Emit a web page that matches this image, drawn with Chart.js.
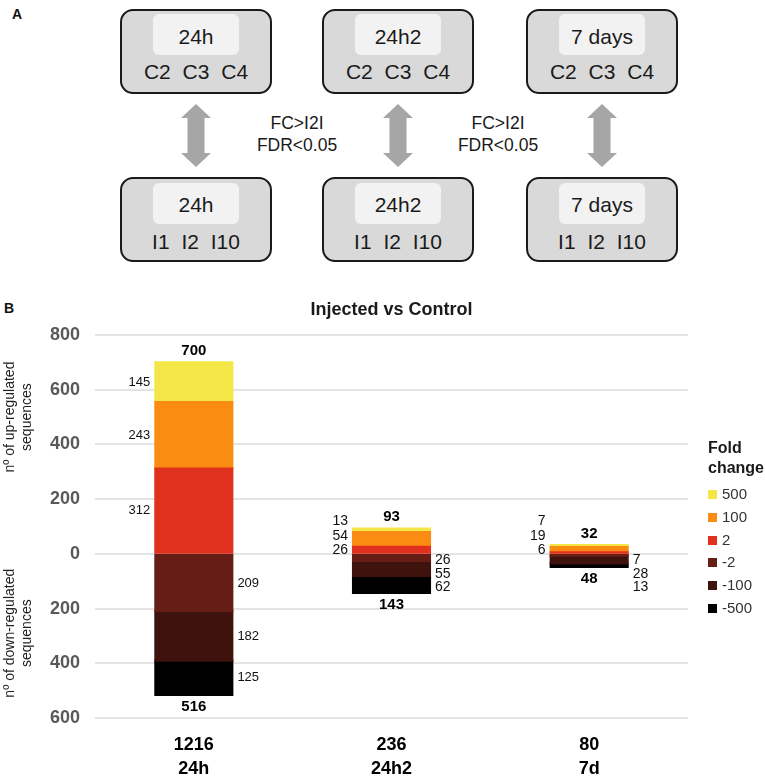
<!DOCTYPE html>
<html><head><meta charset="utf-8">
<script src="https://cdn.jsdelivr.net/npm/chart.js@4.4.1/dist/chart.umd.min.js"></script>
<style>
html,body{margin:0;padding:0;background:#fff;}
body{width:765px;height:779px;position:relative;overflow:hidden;font-family:"Liberation Sans",Arial,sans-serif;}
.panel{position:absolute;font-weight:bold;font-size:14px;color:#111;line-height:16px;}
.box{position:absolute;box-sizing:border-box;width:152px;height:85px;border:2px solid #1a1a1a;border-radius:13px;background:#d9d9d9;}
.inner{position:absolute;left:31px;width:86px;height:41px;border-radius:6px;background:#f2f2f2;}
.lbl{position:absolute;left:0;width:100%;text-align:center;font-size:21px;color:#1a1a1a;line-height:24px;white-space:nowrap;}
.lbl.ws{word-spacing:6px;}
.crit{position:absolute;width:140px;text-align:center;font-size:17.5px;line-height:22px;color:#1a1a1a;}
#chartWrap{position:absolute;left:0;top:280px;width:765px;height:499px;}
#legend{position:absolute;left:708px;top:438px;color:#333;}
#legend .t{font-weight:bold;font-size:16px;line-height:20px;color:#1a1a1a;}
#legend .it{position:absolute;left:0;font-size:15px;line-height:18px;white-space:nowrap;}
#legend .sq{display:inline-block;width:9px;height:9px;margin-right:5px;vertical-align:0px;}
</style>
</head><body>
<div class="panel" style="left:12px;top:6px;">A</div>
<div class="panel" style="left:4px;top:300px;">B</div>

<svg width="765" height="270" style="position:absolute;left:0;top:0;" id="arrows"></svg>

<div id="boxes"></div>

<div class="crit" style="left:227px;top:112px;">FC&gt;I2I<br>FDR&lt;0.05</div>
<div class="crit" style="left:428px;top:112px;">FC&gt;I2I<br>FDR&lt;0.05</div>

<div id="chartWrap"><canvas id="c"></canvas></div>
<div id="legend"></div>

<script>
// ---- data ----
const categories = ['24h', '24h2', '7d'];
const fc2 = [312, 26, 6];
const fc100 = [243, 54, 19];
const fc500 = [145, 13, 7];
const fcNeg2 = [-209, -26, -7];
const fcNeg100 = [-182, -55, -28];
const fcNeg500 = [-125, -62, -13];
const seriesLabels = ['2', '100', '500', '-2', '-100', '-500'];
const seriesColors = ['#E0301E', '#FA8C14', '#F3E646', '#651D15', '#3E120D', '#000000'];
const legendOrder = [2, 1, 0, 3, 4, 5];
const yMin = -600, yMax = 800, yStep = 200;
const panelTimes = ['24h', '24h2', '7 days'];
const controlLabel = 'C2 C3 C4';
const injectedLabel = 'I1 I2 I10';

// ---- panel A ----
const boxLefts = [120, 322, 526];
const boxesEl = document.getElementById('boxes');
panelTimes.forEach((t, i) => {
  [[9, controlLabel, 3, 14, 49], [177, injectedLabel, 4, 14, 51]].forEach(r => {
    const b = document.createElement('div');
    b.className = 'box';
    b.style.left = boxLefts[i] + 'px';
    b.style.top = r[0] + 'px';
    b.innerHTML = '<div class="inner" style="top:' + r[2] + 'px"></div>' +
      '<div class="lbl" style="top:' + r[3] + 'px">' + t + '</div>' +
      '<div class="lbl ws" style="top:' + r[4] + 'px">' + r[1] + '</div>';
    boxesEl.appendChild(b);
  });
});
const svg = document.getElementById('arrows');
boxLefts.forEach(l => {
  const cx = l + 76, t = 104, b = 167, hw = 15, sw = 8.5, hh = 14;
  const pts = [[cx, t], [cx + hw, t + hh], [cx + sw, t + hh], [cx + sw, b - hh], [cx + hw, b - hh], [cx, b],
    [cx - hw, b - hh], [cx - sw, b - hh], [cx - sw, t + hh], [cx - hw, t + hh]];
  const p = document.createElementNS('http://www.w3.org/2000/svg', 'polygon');
  p.setAttribute('points', pts.map(q => q.join(',')).join(' '));
  p.setAttribute('fill', '#a6a6a6');
  svg.appendChild(p);
});

// ---- panel B ----
const series = [fc2, fc100, fc500, fcNeg2, fcNeg100, fcNeg500];
const upTotal = categories.map((c, i) => series.reduce((s, a) => s + (a[i] > 0 ? a[i] : 0), 0));
const downTotal = categories.map((c, i) => series.reduce((s, a) => s + (a[i] < 0 ? -a[i] : 0), 0));
const xLabels = categories.map((c, i) => [String(upTotal[i] + downTotal[i]), c]);

const FONT = '"Liberation Sans", Arial, sans-serif';

const segLabels = {
  id: 'segLabels',
  afterDatasetsDraw(chart) {
    const ctx = chart.ctx;
    const ys = chart.scales.y;
    const y0 = ys.getPixelForValue(0);
    ctx.save();
    ctx.textBaseline = 'middle';
    categories.forEach((c, i) => {
      const props = chart.data.datasets.map((ds, d) => chart.getDatasetMeta(d).data[i].getProps(['x', 'y', 'base', 'width'], true));
      const minH = Math.min(...props.map(p => Math.abs(p.base - p.y)));
      const compact = minH < 18;
      let up = 0, down = 0, top = y0, bottom = y0;
      ctx.fillStyle = '#111';
      ctx.font = (compact ? '14px ' : '13px ') + FONT;
      chart.data.datasets.forEach((ds, d) => {
        const v = ds.data[i];
        const p = props[d];
        if (v >= 0) {
          const ty = compact ? y0 - 3.5 - up * 14.5 : (p.y + p.base) / 2;
          up++;
          ctx.textAlign = 'right';
          ctx.fillText(String(Math.abs(v)), p.x - p.width / 2 - 5, ty);
          top = Math.min(top, p.y);
        } else {
          const ty = compact ? y0 + 6.5 + down * 13.3 : (p.y + p.base) / 2;
          down++;
          ctx.textAlign = 'left';
          ctx.fillText(String(Math.abs(v)), p.x + p.width / 2 + 5, ty);
          bottom = Math.max(bottom, p.y);
        }
      });
      ctx.font = 'bold 15px ' + FONT;
      ctx.textAlign = 'center';
      ctx.fillStyle = '#000';
      ctx.fillText(String(upTotal[i]), props[0].x, top - 11.5);
      ctx.fillText(String(downTotal[i]), props[0].x, bottom + 12);
    });
    // y axis titles
    ctx.fillStyle = '#222';
    ctx.font = '14px ' + FONT;
    ctx.textAlign = 'center';
    [[500, 'nº of up-regulated', 'sequences'], [-290, 'nº of down-regulated', 'sequences']].forEach(a => {
      ctx.save();
      ctx.translate(18.5, ys.getPixelForValue(a[0]));
      ctx.rotate(-Math.PI / 2);
      ctx.fillText(a[1], 0, -8.5);
      ctx.fillText(a[2], 0, 8.5);
      ctx.restore();
    });
    ctx.restore();
  }
};

const datasets = series.map((data, d) => ({
  label: seriesLabels[d],
  data: data,
  backgroundColor: seriesColors[d],
  borderWidth: 0,
  inflateAmount: 1,
  stack: 's',
  categoryPercentage: 1,
  barPercentage: 0.39
}));

new Chart(document.getElementById('c'), {
  type: 'bar',
  data: { labels: xLabels, datasets: datasets },
  options: {
    responsive: true,
    maintainAspectRatio: false,
    animation: false,
    layout: { padding: { left: 0, right: 77, top: 0, bottom: 0 } },
    plugins: {
      legend: { display: false },
      tooltip: { enabled: false },
      title: {
        display: true,
        text: 'Injected vs Control',
        fullSize: false,
        color: '#1a1a1a',
        font: { family: FONT, size: 18, weight: 'bold', lineHeight: 1.2 },
        padding: { top: 19, bottom: 14.4 }
      }
    },
    scales: {
      x: {
        stacked: true,
        grid: { display: false, drawTicks: false },
        border: { display: false },
        ticks: { color: '#000', padding: 16, font: { family: FONT, size: 18, weight: 'bold', lineHeight: 1.28 } },
        afterFit: s => { s.height = 61; }
      },
      y: {
        stacked: true,
        min: yMin,
        max: yMax,
        grid: { color: '#e4e4e4', lineWidth: 2, drawTicks: false },
        border: { display: false },
        ticks: {
          stepSize: yStep,
          padding: 15,
          color: '#595959',
          font: { family: FONT, size: 18, weight: 'bold' },
          callback: v => String(Math.abs(v))
        },
        afterFit: s => { s.width = 95; }
      }
    }
  },
  plugins: [segLabels]
});

// legend (HTML) built from series
const lg = document.getElementById('legend');
lg.innerHTML = '<div class="t">Fold<br>change</div>';
legendOrder.forEach((d, k) => {
  const it = document.createElement('div');
  it.className = 'it';
  it.style.top = (47 + k * 22.8) + 'px';
  it.innerHTML = '<span class="sq" style="background:' + seriesColors[d] + '"></span>' + seriesLabels[d];
  lg.appendChild(it);
});
</script>
</body></html>
